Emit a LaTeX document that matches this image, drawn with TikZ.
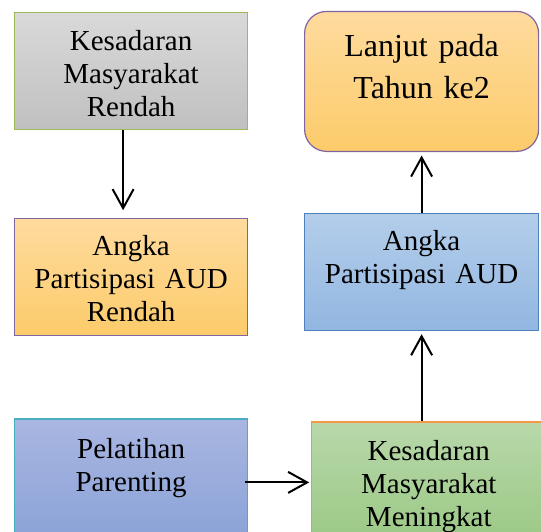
\documentclass[tikz,border=0pt]{standalone}
\usepackage{fontspec}
\setmainfont{Liberation Serif}
\usepackage{tikz}
\usetikzlibrary{arrows.meta}
\usetikzlibrary{positioning}
\definecolor{olivegreen}{HTML}{9BBB59}
\definecolor{lilac}{HTML}{8064A2}
\definecolor{aqua}{HTML}{4BACC6}
\definecolor{tangerine}{HTML}{F79646}
\definecolor{steel}{HTML}{4F81BD}
\tikzstyle{aH}=[every edge/.style={draw,line width=2pt,-{Straight Barb[length=19pt,width=21pt]}}]
\tikzstyle{box}=[draw,rectangle,inner sep=0pt,line width=1.2pt,align=center,
                anchor=north west,font=\fontsize{29}{33}\selectfont]
\tikzstyle{greybox}=[box,draw=olivegreen,top color={rgb,255:red,217;green,217;blue,217},
                bottom color={rgb,255:red,192;green,192;blue,192}]
\tikzstyle{orangebox}=[box,draw=lilac,top color={rgb,255:red,254;green,219;blue,158},
                bottom color={rgb,255:red,252;green,203;blue,106}]
\tikzstyle{violetbox}=[box,draw=aqua,top color={rgb,255:red,169;green,182;blue,225},
                bottom color={rgb,255:red,136;green,161;blue,215}]
\tikzstyle{greenbox}=[box,draw=tangerine,top color={rgb,255:red,184;green,216;blue,170},
                bottom color={rgb,255:red,154;green,200;blue,132}]
\tikzstyle{bluebox}=[box,draw=steel,top color={rgb,255:red,180;green,206;blue,234},
                bottom color={rgb,255:red,146;green,182;blue,225}]

\begin{document}
\begin{tikzpicture}[aH,x=1pt,y=-1pt]
\useasboundingbox (0,0) rectangle (541,531);
\clip (0,0) rectangle (541,531);

\node[greybox,text width=233pt,text height=38pt,text depth=79pt] (kmr) at (14,12)
{Kesadaran\\Masyarakat\\Rendah};
\node[orangebox,text width=233pt,text height=37pt,text depth=80pt,below=88pt of kmr] (apr)
{Angka\\Partisipasi AUD\\Rendah};
\node[violetbox,text width=233pt,text height=39pt,text depth=91pt,below=82pt of apr] (pp)
{Pelatihan\\Parenting};
\node[greenbox,text width=234pt,text height=38pt,text depth=87pt] (kmm)
at ([xshift=63pt,yshift=-3pt]pp.north east) {Kesadaran\\Masyarakat\\Meningkat};

\node[bluebox,text width=234pt,text height=37pt,text depth=80pt] (apa) at (304,213)
{Angka\\Partisipasi AUD};
\node[orangebox,rounded corners=22pt,text width=234pt,text height=45pt,text depth=95pt,
      font=\fontsize{32}{42.5}\selectfont,above=61pt of apa] (ltk)
{Lanjut pada\\Tahun ke2};

\coordinate (ppout) at ([yshift=-64pt]pp.north east);

\path
([xshift=-8pt]kmr.south) edge[shorten >=8pt] ([xshift=-8pt]apr.north)
(ppout) edge[shorten <=-3pt,shorten >=2pt] (ppout -| kmm.west)
(kmm.north -| apa.south) edge[shorten >=3pt] (apa.south)
(apa.north) edge[shorten >=3.5pt] (ltk.south)
;
\end{tikzpicture}
\end{document}
